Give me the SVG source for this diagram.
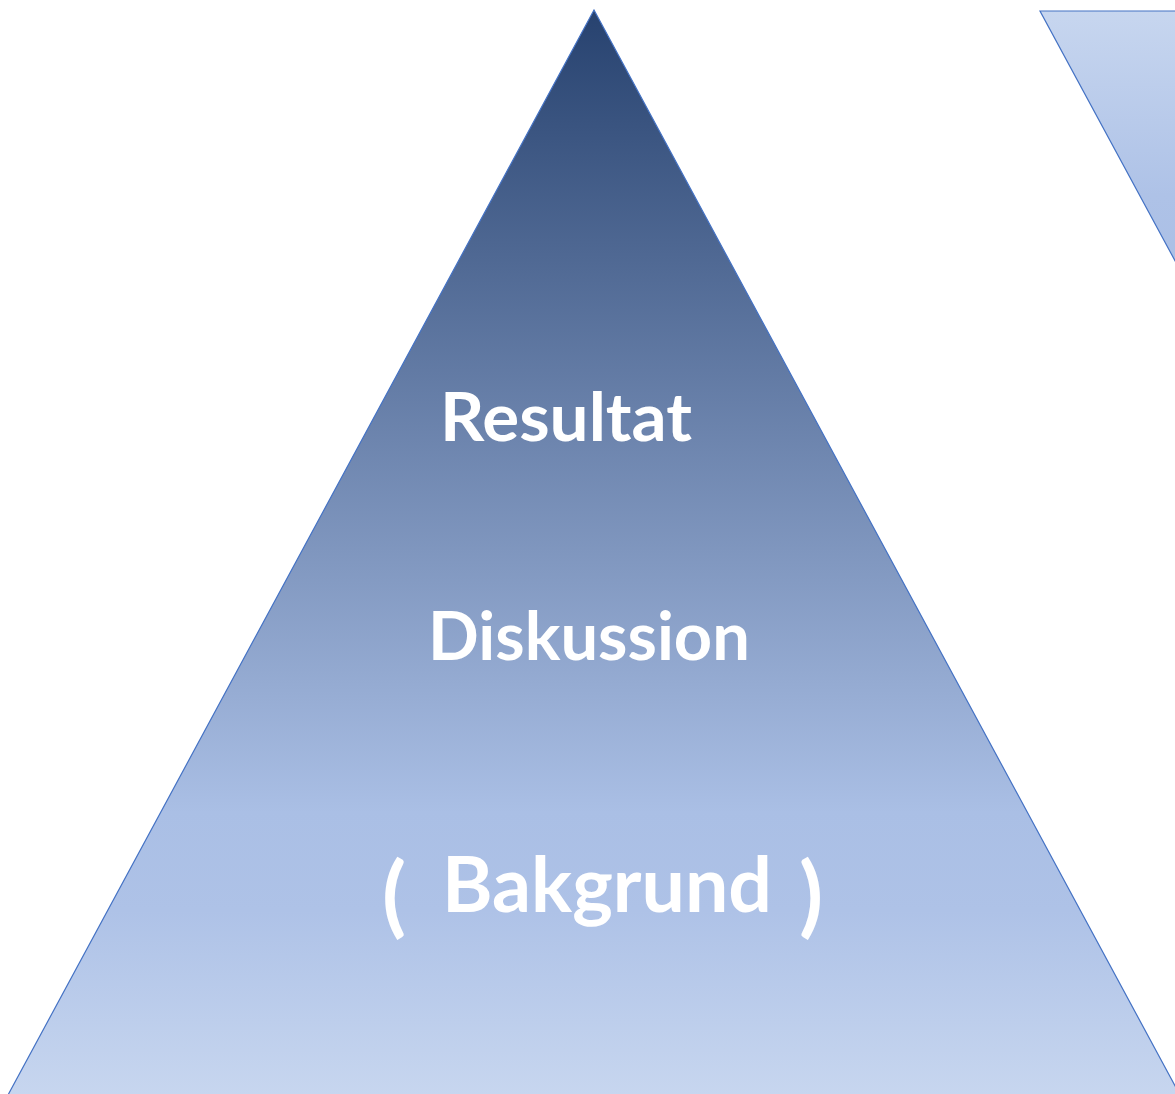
<svg xmlns="http://www.w3.org/2000/svg" width="1175" height="1094" viewBox="0 0 1175 1094">
  <defs>
    <linearGradient id="gUp" gradientUnits="userSpaceOnUse" x1="0" y1="10" x2="0" y2="1095">
      <stop offset="0" stop-color="#27426f"/>
      <stop offset="0.74" stop-color="#aabfe5"/>
      <stop offset="0.83" stop-color="#aec2e7"/>
      <stop offset="1" stop-color="#c7d6ef"/>
    </linearGradient>
    <linearGradient id="gDown" gradientUnits="userSpaceOnUse" x1="0" y1="1095" x2="0" y2="11">
      <stop offset="0" stop-color="#27426f"/>
      <stop offset="0.74" stop-color="#aabfe5"/>
      <stop offset="0.83" stop-color="#aec2e7"/>
      <stop offset="1" stop-color="#c7d6ef"/>
    </linearGradient>
    <style>
      .tri { stroke: #4472c4; stroke-width: 1.2; stroke-linejoin: miter; }
      .lbl { fill: #ffffff; font-family: "Lato", "Open Sans", "Liberation Sans", sans-serif; font-weight: 700; }
    </style>
  </defs>
  <rect width="1175" height="1094" fill="#ffffff"/>
  <g id="pyramid">
    <polygon class="tri" points="594,10 8,1095 1180,1095" fill="url(#gUp)"/>
  </g>
  <g id="inverted-pyramid">
    <polygon class="tri" points="1040,11 2212,11 1626,1095" fill="url(#gDown)"/>
  </g>
  <g id="labels">
    <text id="resultat" class="lbl" x="440" y="441" font-size="66" textLength="252" lengthAdjust="spacingAndGlyphs">Resultat</text>
    <text id="diskussion" class="lbl" x="428" y="660" font-size="66" textLength="322" lengthAdjust="spacingAndGlyphs">Diskussion</text>
    <g id="bakgrund">
      <text class="lbl" x="382" y="926" font-size="88" font-weight="900">(</text>
      <text class="lbl" x="442" y="912" font-size="76" textLength="330" lengthAdjust="spacingAndGlyphs">Bakgrund</text>
      <text class="lbl" x="799" y="926" font-size="88" font-weight="900">)</text>
    </g>
  </g>
</svg>
